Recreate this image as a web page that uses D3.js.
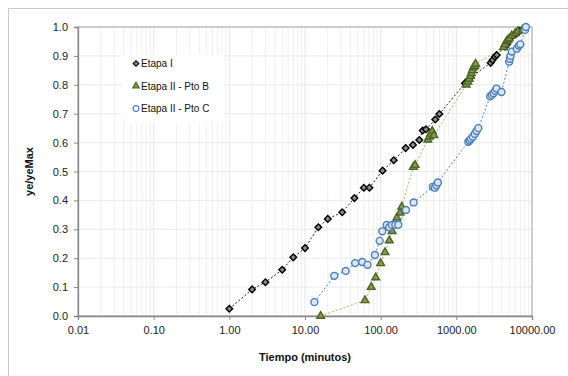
<!DOCTYPE html>
<html>
<head>
<meta charset="utf-8">
<script src="https://cdn.jsdelivr.net/npm/d3@7"></script>
<style>
  body { margin: 0; background: #fff; }
  svg { display: block; font-family: "Liberation Sans", Arial, sans-serif; }
</style>
</head>
<body>
<svg id="chart" width="568" height="376"></svg>
<script>
// datos: [tiempo (min), ye/yeMax]
const etapaI = [
  [1, 0.025], [2, 0.092], [3, 0.117], [5, 0.16], [7, 0.203], [10, 0.235],
  [15, 0.307], [20, 0.336], [31, 0.359], [45, 0.408], [60, 0.444], [71, 0.444],
  [106, 0.503], [149, 0.539], [214, 0.581], [267, 0.592], [324, 0.609],
  [359, 0.642], [397, 0.646], [527, 0.68], [596, 0.699],
  [1300, 0.805], [1420, 0.815], [1550, 0.825], [2840, 0.876], [3020, 0.886],
  [3240, 0.897], [3420, 0.903], [4400, 0.932], [4710, 0.941], [5550, 0.969],
  [6280, 0.978], [6900, 0.987]
];
const etapaIIB = [
  [16.1, 0.0], [62, 0.054], [75, 0.10], [86, 0.133], [100, 0.182], [114, 0.22],
  [130, 0.261], [142, 0.293], [164, 0.34], [180, 0.357], [190, 0.378],
  [270, 0.515], [285, 0.522], [420, 0.61], [440, 0.62], [460, 0.63],
  [480, 0.64], [505, 0.625], [1350, 0.80], [1420, 0.81], [1480, 0.82],
  [1530, 0.83], [1580, 0.84], [1630, 0.85], [1680, 0.86], [1750, 0.865],
  [1800, 0.872], [4200, 0.93], [4400, 0.94], [4600, 0.95], [4800, 0.955],
  [5000, 0.96], [5400, 0.97], [6000, 0.978], [6500, 0.985], [7500, 0.99]
];
const etapaIIC = [
  [13.3, 0.048], [24.4, 0.139], [34.5, 0.156], [46, 0.183], [57, 0.187],
  [67, 0.177], [84, 0.211], [97, 0.26], [105, 0.293], [120, 0.315],
  [130, 0.307], [141, 0.315], [156, 0.316], [171, 0.316], [216, 0.367],
  [273, 0.393], [490, 0.447], [520, 0.444], [545, 0.452], [570, 0.462],
  [1440, 0.603], [1500, 0.607], [1560, 0.613], [1650, 0.62], [1750, 0.63],
  [1850, 0.64], [1950, 0.65], [2800, 0.76], [2950, 0.765], [3100, 0.771],
  [3250, 0.779], [3400, 0.787], [3950, 0.775], [5000, 0.88], [5100, 0.89],
  [5200, 0.90], [5400, 0.915], [6300, 0.925], [6700, 0.935], [7000, 0.94],
  [8100, 0.99], [8300, 1.0]
];
const xTicks = [0.01, 0.1, 1, 10, 100, 1000, 10000];
const yTicks = [0, 0.1, 0.2, 0.3, 0.4, 0.5, 0.6, 0.7, 0.8, 0.9, 1.0];
const seriesNames = ["Etapa I", "Etapa II - Pto B", "Etapa II - Pto C"];

const svg = d3.select("#chart");
const margin = { top: 27, right: 36, bottom: 60, left: 78 };
const W = 568, H = 376;

// borde exterior del grafico
svg.append("rect")
  .attr("x", 8.5).attr("y", 8.5)
  .attr("width", W + 10).attr("height", H + 10)
  .attr("fill", "#fff").attr("stroke", "#c8c8c8");

const x = d3.scaleLog().domain([0.01, 10000]).range([margin.left, W - margin.right]);
const y = d3.scaleLinear().domain([0, 1]).range([H - margin.bottom, margin.top]);

// rejilla menor (log)
const minor = [];
xTicks.slice(0, -1).forEach(d => {
  for (let k = 2; k <= 9; k++) minor.push(d * k);
});
const grid = svg.append("g");
grid.selectAll("line.minor").data(minor).join("line")
  .attr("x1", d => x(d)).attr("x2", d => x(d))
  .attr("y1", y(0)).attr("y2", y(1))
  .attr("stroke", "#efefef").attr("stroke-width", 1);
grid.selectAll("line.vmaj").data(xTicks).join("line")
  .attr("x1", d => x(d)).attr("x2", d => x(d))
  .attr("y1", y(0)).attr("y2", y(1))
  .attr("stroke", "#e6e6e6");
grid.selectAll("line.h").data(yTicks).join("line")
  .attr("x1", x(0.01)).attr("x2", x(10000))
  .attr("y1", d => y(d)).attr("y2", d => y(d))
  .attr("stroke", "#ebebeb");

// marco del area de trazado
svg.append("rect")
  .attr("x", x(0.01)).attr("y", y(1))
  .attr("width", x(10000) - x(0.01)).attr("height", y(0) - y(1))
  .attr("fill", "none").attr("stroke", "#a6a6a6");

// ejes
const xAxis = d3.axisBottom(x).tickValues(xTicks).tickFormat(d3.format(".2f")).tickSize(4).tickPadding(6);
const yAxis = d3.axisLeft(y).tickValues(yTicks).tickFormat(d3.format(".1f")).tickSize(4).tickPadding(6);
const gx = svg.append("g").attr("transform", `translate(0,${y(0)})`).call(xAxis);
const gy = svg.append("g").attr("transform", `translate(${x(0.01)},0)`).call(yAxis);
[gx, gy].forEach(g => {
  g.select(".domain").attr("stroke", "#868686").attr("stroke-width", 1.3);
  g.selectAll(".tick line").attr("stroke", "#868686");
  g.selectAll(".tick text").attr("fill", "#222").style("font-size", "11px")
    .style("font-family", "Liberation Sans, Arial, sans-serif");
});

// titulos
svg.append("text")
  .attr("x", (x(0.01) + x(10000)) / 2).attr("y", 361)
  .attr("text-anchor", "middle")
  .style("font-size", "11px").style("font-weight", "bold").attr("fill", "#111")
  .text("Tiempo (minutos)");
svg.append("text")
  .attr("transform", `translate(33,${(y(0) + y(1)) / 2}) rotate(-90)`)
  .attr("text-anchor", "middle")
  .style("font-size", "11px").style("font-weight", "bold").attr("fill", "#111")
  .text("ye/yeMax");

const line = d3.line().x(d => x(d[0])).y(d => y(d[1]));
// rombo = cuadrado girado 45 grados
const styles = [
  { data: etapaI, line: "#222", sym: d3.symbolSquare, rot: 45, size: 22, fill: "#8c8c8c", stroke: "#000" },
  { data: etapaIIB, line: "#9bbb59", sym: d3.symbolTriangle, rot: 0, size: 26, fill: "#7f9f45", stroke: "#4f6228" },
  { data: etapaIIC, line: "#4f81bd", sym: d3.symbolCircle, rot: 0, size: 38, fill: "#dce6f2", stroke: "#4a7ebb" }
];

styles.forEach(s => {
  svg.append("path").datum(s.data)
    .attr("d", line).attr("fill", "none")
    .attr("stroke", s.line).attr("stroke-width", 1)
    .attr("stroke-dasharray", "2,2");
});
styles.forEach(s => {
  svg.append("g").selectAll("path").data(s.data).join("path")
    .attr("transform", d => `translate(${x(d[0])},${y(d[1])}) rotate(${s.rot})`)
    .attr("d", d3.symbol().type(s.sym).size(s.size))
    .attr("fill", s.fill).attr("stroke", s.stroke).attr("stroke-width", 1.4);
});

// leyenda
const legend = svg.append("g").attr("transform", "translate(122,55)");
legend.append("rect").attr("width", 102).attr("height", 68).attr("fill", "#fff");
seriesNames.forEach((name, i) => {
  const s = styles[i];
  const row = legend.append("g").attr("transform", `translate(14,${8.5 + i * 22.5})`);
  row.append("path").attr("transform", `rotate(${s.rot})`)
    .attr("d", d3.symbol().type(s.sym).size(s.size * 0.7))
    .attr("fill", i === 2 ? "#fff" : s.fill).attr("stroke", s.stroke).attr("stroke-width", 1.2);
  row.append("text").attr("x", 5).attr("y", 3.8)
    .style("font-size", "10px").attr("fill", "#111").text(name);
});
</script>
</body>
</html>
